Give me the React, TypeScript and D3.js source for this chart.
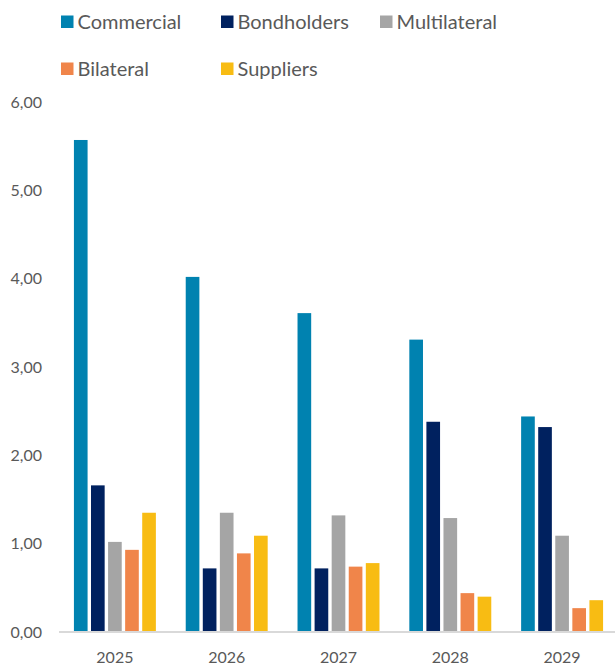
import React from "react";
import * as d3 from "d3";

const years = ["2025", "2026", "2027", "2028", "2029"];
const seriesNames = ["Commercial", "Bondholders", "Multilateral", "Bilateral", "Suppliers"];
const commercial = [5.57, 4.02, 3.61, 3.31, 2.44];
const bondholders = [1.66, 0.72, 0.72, 2.38, 2.32];
const multilateral = [1.02, 1.35, 1.32, 1.29, 1.09];
const bilateral = [0.93, 0.89, 0.74, 0.44, 0.27];
const suppliers = [1.35, 1.09, 0.78, 0.40, 0.36];
const yTicks = [0, 1, 2, 3, 4, 5, 6];
const colors = ["#0082B0", "#00215F", "#A5A5A5", "#F0854A", "#F8BC13"];

const seriesValues = [commercial, bondholders, multilateral, bilateral, suppliers];

export default function App() {
  const W = 615, H = 666;
  const left = 59, right = 618, top = 102, bottom = 632;
  const x0 = d3.scaleBand().domain(years).range([left, right]).paddingInner(0.267).paddingOuter(0.1335);
  const x1 = d3.scaleBand().domain(seriesNames).range([0, x0.bandwidth()]).paddingInner(0.2).paddingOuter(0);
  const y = d3.scaleLinear().domain([0, 6]).range([bottom, top]);
  const fmt = (v: number) => d3.format(".2f")(v).replace(".", ",");
  const font = "Lato, 'Open Sans', sans-serif";
  const legendPos = [
    [61, 22], [221, 22], [380, 22], [61, 69], [221, 69],
  ];
  return (
    <svg width={W} height={H} style={{ position: "absolute", left: 0, top: 0, display: "block" }} fontFamily={font}>
      <rect width={W} height={H} fill="#fff" />
      {years.map((yr, i) => (
        <g key={yr} transform={`translate(${x0(yr)},0)`}>
          {seriesNames.map((s, j) => {
            const v = seriesValues[j][i];
            return (
              <rect key={s} x={x1(s)} y={y(v)} width={x1.bandwidth()} height={y(0) - y(v)} fill={colors[j]} />
            );
          })}
        </g>
      ))}
      <line x1={left} x2={W} y1={bottom} y2={bottom} stroke="#D9D9D9" strokeWidth={2} />
      {yTicks.map((t) => (
        <text key={t} x={42} y={y(t)} dy="0.35em" textAnchor="end" fontSize={16} fill="#595959">{fmt(t)}</text>
      ))}
      {years.map((yr) => (
        <text key={yr} x={(x0(yr) as number) + x0.bandwidth() / 2} y={663} textAnchor="middle" fontSize={16} fill="#595959">{yr}</text>
      ))}
      {seriesNames.map((s, j) => (
        <g key={s} transform={`translate(${legendPos[j][0]},${legendPos[j][1]})`}>
          <rect x={0} y={-6.5} width={12.5} height={12.5} fill={colors[j]} />
          <text x={16.5} y={0} dy="0.35em" fontSize={20} fill="#595959">{s}</text>
        </g>
      ))}
    </svg>
  );
}
